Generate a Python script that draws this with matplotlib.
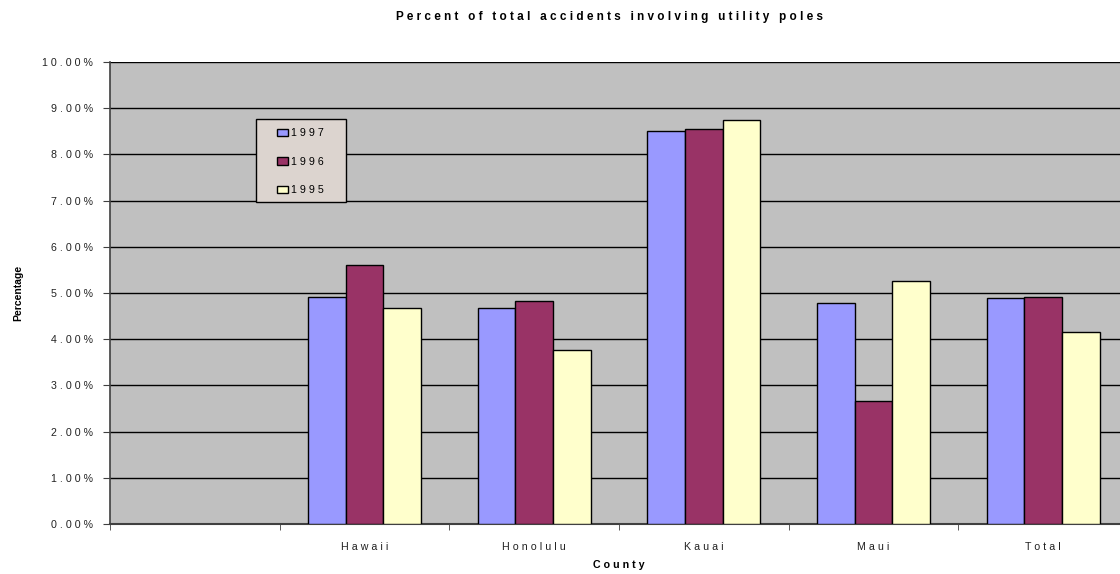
import numpy as np
import matplotlib.pyplot as plt
from matplotlib.patches import Rectangle

plt.rcParams['font.family'] = ['Liberation Sans', 'DejaVu Sans']

counties = ['', 'Hawaii', 'Honolulu', 'Kauai', 'Maui', 'Total']
years = ['1997', '1996', '1995']
pct_1997 = [np.nan, 4.91, 4.68, 8.51, 4.78, 4.89]
pct_1996 = [np.nan, 5.61, 4.83, 8.55, 2.66, 4.91]
pct_1995 = [np.nan, 4.68, 3.77, 8.74, 5.26, 4.16]
colors = ['#9999FF', '#993366', '#FFFFCC']


def spaced(s):
    return ' '.join(s)


fig = plt.figure(figsize=(11.2, 5.74), dpi=100)
ax = fig.add_axes([110 / 1120, 50 / 574, 1018 / 1120, 462 / 574])
ax.set_facecolor('#C0C0C0')

x = np.arange(len(counties))
w = 2 / 9
for i, (vals, yr) in enumerate(zip([pct_1997, pct_1996, pct_1995], years)):
    ax.bar(x + (i - 1) * w, vals, width=w, color=colors[i], edgecolor='black',
           linewidth=1.0, label=spaced(yr), zorder=3)

ax.set_xlim(-0.5, len(counties) - 0.5)
ax.set_ylim(0, 10)
yt = np.arange(0, 11, 1)
ax.set_yticks(yt)
ax.set_yticklabels([spaced('%.2f%%' % v) for v in yt], fontsize=7.7, color='#222222')
ax.yaxis.grid(True, color='black', linewidth=1.0, zorder=1)
ax.set_axisbelow(True)

ax.set_xticks(x)
ax.set_xticklabels([spaced(c) for c in counties], fontsize=7.7, color='#222222')
ax.tick_params(axis='x', length=0, pad=13)
ax.set_xticks(np.arange(-0.5, len(counties)), minor=True)
ax.tick_params(axis='x', which='minor', length=4, color='#404040', direction='out')
ax.tick_params(axis='y', length=5, color='#404040', direction='out', pad=7)

for side in ['top', 'right']:
    ax.spines[side].set_visible(False)
ax.spines['left'].set_color('#404040')
ax.spines['bottom'].set_color('#404040')
ax.spines['left'].set_linewidth(1.2)
ax.spines['bottom'].set_linewidth(1.5)

ax.set_xlabel(spaced('County'), fontsize=7.7, fontweight='bold', labelpad=6)
ax.set_ylabel('Percentage', fontsize=7.5, fontweight='bold', labelpad=14)
fig.text(609 / 1120, 1 - 17 / 574, spaced('Percent of total accidents involving utility poles'),
         ha='center', va='center', fontsize=8.5, fontweight='bold')

# legend box drawn separately so its padding can match the reference
to_ax = lambda px, py: ((px - 110) / 1018, (524 - py) / 462)
bx0, by0 = to_ax(256, 202)
bx1, by1 = to_ax(346, 119)
ax.add_patch(Rectangle((bx0, by0), bx1 - bx0, by1 - by0, transform=ax.transAxes,
                       facecolor='#DCD4CF', edgecolor='black', linewidth=1.0, zorder=5))
lx, ly = to_ax(277, 128)
leg = ax.legend(loc='upper left', bbox_to_anchor=(lx, ly), fontsize=7.7,
                frameon=False, borderpad=0, handlelength=1.0,
                handleheight=0.7, handletextpad=0.3, labelspacing=1.75,
                borderaxespad=0)
leg.set_zorder(6)

fig.savefig('out.png', dpi=100)
